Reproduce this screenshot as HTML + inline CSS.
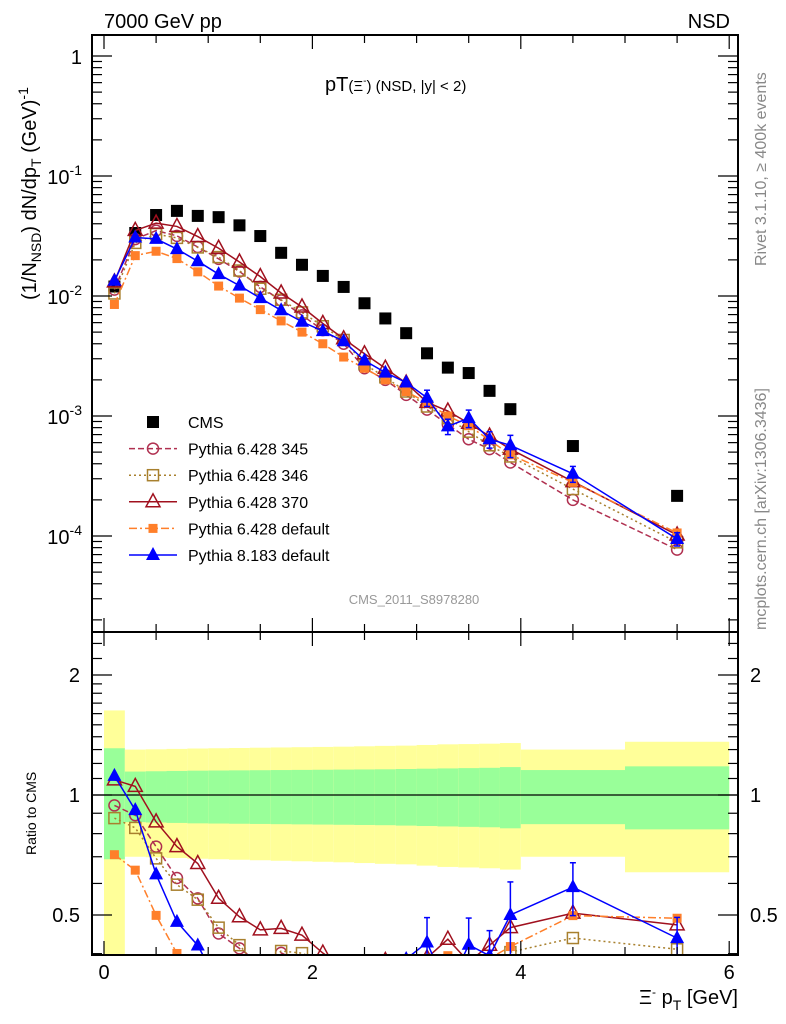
<!DOCTYPE html>
<html><head><meta charset="utf-8"><style>
html,body{margin:0;padding:0;background:#fff;}
svg{display:block;font-family:"Liberation Sans",sans-serif;}
</style></head><body>
<svg id="chart" width="786" height="1024" viewBox="0 0 786 1024">
<defs>
<clipPath id="cm"><rect x="92" y="35" width="646" height="597"/></clipPath>
<clipPath id="cr"><rect x="92" y="632" width="646" height="323"/></clipPath>
</defs>
<g id="bands" clip-path="url(#cr)"></g>
<g id="main" clip-path="url(#cm)"></g>
<g id="ratio" clip-path="url(#cr)"></g>
<g id="axes"></g>
<rect x="92" y="35" width="646" height="597" fill="none" stroke="#000" stroke-width="2"/>
<rect x="92" y="632" width="646" height="323" fill="none" stroke="#000" stroke-width="2"/>
<text x="104" y="28" font-size="20">7000 GeV pp</text>
<text x="730" y="28" font-size="20" text-anchor="end">NSD</text>
<text x="325" y="91" font-size="20">pT<tspan font-size="15">(Ξ</tspan><tspan font-size="10" dy="-7">-</tspan><tspan font-size="15" dy="7">) (NSD, |y| &lt; 2)</tspan></text>
<text x="414" y="604" font-size="13" fill="#999" text-anchor="middle">CMS_2011_S8978280</text>
<text transform="translate(766,266) rotate(-90)" font-size="16" fill="#888">Rivet 3.1.10, ≥ 400k events</text>
<text transform="translate(766,630) rotate(-90)" font-size="16" fill="#888">mcplots.cern.ch [arXiv:1306.3436]</text>
<text transform="translate(36,300) rotate(-90)" font-size="20">(1/N<tspan font-size="14" dy="5">NSD</tspan><tspan dy="-5">) dN/dp</tspan><tspan font-size="14" dy="5">T</tspan><tspan dy="-5"> (GeV)</tspan><tspan font-size="14" dy="-8">-1</tspan></text>
<text transform="translate(36,855) rotate(-90)" font-size="14">Ratio to CMS</text>
<text x="738" y="1004" font-size="20" text-anchor="end">Ξ<tspan font-size="12" dy="-8">-</tspan><tspan dy="8"> p</tspan><tspan font-size="14" dy="6">T</tspan><tspan dy="-6"> [GeV]</tspan></text>
<g id="legend"></g>
</svg>
<script>
const binLo=[0,0.2,0.4,0.6,0.8,1.0,1.2,1.4,1.6,1.8,2.0,2.2,2.4,2.6,2.8,3.0,3.2,3.4,3.6,3.8,4.0,5.0];
const binHi=[0.2,0.4,0.6,0.8,1.0,1.2,1.4,1.6,1.8,2.0,2.2,2.4,2.6,2.8,3.0,3.2,3.4,3.6,3.8,4.0,5.0,6.0];
const cms=[0.012,0.0335,0.0473,0.0512,0.0465,0.0454,0.0388,0.0316,0.0229,0.0182,0.0147,0.0119,0.0087,0.0065,0.0049,0.00333,0.00253,0.00228,0.00162,0.00114,0.000562,0.000216];
const cmsStat=[0.31,0.145,0.147,0.149,0.151,0.152,0.153,0.154,0.155,0.156,0.157,0.158,0.159,0.160,0.162,0.164,0.166,0.168,0.170,0.175,0.155,0.18];
const cmsTot=[0.63,0.30,0.302,0.305,0.308,0.31,0.312,0.314,0.316,0.318,0.32,0.322,0.325,0.328,0.33,0.335,0.34,0.342,0.345,0.35,0.30,0.36];
const p345=[0.0113,0.0298,0.0351,0.0317,0.0256,0.0204,0.016,0.0119,0.0092,0.0069,0.0052,0.004,0.0025,0.002,0.0015,0.00113,0.00085,0.00064,0.00053,0.00041,0.0002,0.000077];
const p346=[0.0105,0.0277,0.0328,0.0305,0.0254,0.0211,0.0163,0.0115,0.0093,0.0073,0.0056,0.0043,0.0027,0.0021,0.0016,0.0012,0.00096,0.00074,0.00057,0.00046,0.000246,0.0000886];
const p370=[0.0131,0.0352,0.0405,0.038,0.0313,0.025,0.0192,0.0145,0.0106,0.0081,0.0059,0.0044,0.0033,0.0025,0.00188,0.0013,0.0011,0.00087,0.00068,0.00053,0.000284,0.000102];
const pdef=[0.0085,0.0217,0.0236,0.0205,0.0159,0.0121,0.0096,0.0077,0.0062,0.005,0.004,0.0031,0.0025,0.002,0.0016,0.00129,0.001,0.00083,0.00063,0.000475,0.00028,0.000106];
const p8=[0.0134,0.0307,0.0299,0.0246,0.0195,0.0152,0.0122,0.0096,0.0076,0.0061,0.0051,0.0042,0.0029,0.0023,0.0019,0.00142,0.00082,0.00096,0.00064,0.00057,0.00033,0.0000945];
const p8Err=[0,0,0,0,0,0,0,0,0,0,0,0,0,0,0,0.00022,0.00012,0.00016,0.0001,0.00012,0.00005,0.000012];
const xTickLabels=["0","2","4","6"];
const yTickLabels=["10⁻⁴","10⁻³","10⁻²","10⁻¹","1"];
const rTickLabels=["0.5","1","2"];

const NS="http://www.w3.org/2000/svg";
const X=v=>104+v*104.2;
const Y=v=>56-120*Math.log10(v);
const R=r=>795-120*Math.log2(r);
function mk(parent,tag,attrs){const e=document.createElementNS(NS,tag);for(const k in attrs)e.setAttribute(k,attrs[k]);parent.appendChild(e);return e;}
const gMain=document.getElementById('main'),gRatio=document.getElementById('ratio'),gBands=document.getElementById('bands'),gAx=document.getElementById('axes'),gLeg=document.getElementById('legend');
const ctr=binLo.map((l,i)=>(l+binHi[i])/2);

cms.forEach((c,i)=>{
  let r=mk(gBands,'rect',{x:X(binLo[i]),y:R(1+cmsTot[i]),width:X(binHi[i])-X(binLo[i]),height:R(Math.max(1-cmsTot[i],0.05))-R(1+cmsTot[i]),fill:'#ffff99'});
  
  
  let g=mk(gBands,'rect',{x:X(binLo[i]),y:R(1+cmsStat[i]),width:X(binHi[i])-X(binLo[i]),height:R(1-cmsStat[i])-R(1+cmsStat[i]),fill:'#99ff99'});
  
  
});
let one=mk(gBands,'line',{x1:92,x2:738,y1:R(1),y2:R(1),stroke:'#000','stroke-width':1.2});



function marker(g,shape,x,y,col){
  let e;
  if(shape==='sq') e=mk(g,'rect',{x:x-6,y:y-6,width:12,height:12,fill:'#000'});
  else if(shape==='circ') e=mk(g,'circle',{cx:x,cy:y,r:5.5,fill:'none',stroke:col,'stroke-width':1.5});
  else if(shape==='osq') e=mk(g,'rect',{x:x-5.5,y:y-5.5,width:11,height:11,fill:'none',stroke:col,'stroke-width':1.5});
  else if(shape==='otri') e=mk(g,'polygon',{points:`${x},${y-8} ${x-7},${y+5} ${x+7},${y+5}`,fill:'none',stroke:col,'stroke-width':1.5});
  else if(shape==='fsq') e=mk(g,'rect',{x:x-4.5,y:y-4.5,width:9,height:9,fill:col});
  else e=mk(g,'polygon',{points:`${x},${y-8} ${x-7},${y+5} ${x+7},${y+5}`,fill:col});
  return e;
}
const series=[
 {name:'pythia-6-345',vals:p345,col:'#b03050',dash:'6,3',shape:'circ'},
 {name:'pythia-6-346',vals:p346,col:'#a8802e',dash:'2,3',shape:'osq'},
 {name:'pythia-6-370',vals:p370,col:'#a0101e',dash:'',shape:'otri'},
 {name:'pythia-6-default',vals:pdef,col:'#ff7f2a',dash:'8,3,2,3',shape:'fsq'},
 {name:'pythia-8-default',vals:p8,col:'#0000ff',dash:'',shape:'ftri',err:p8Err}
];
cms.forEach((c,i)=>{
  const m=marker(gMain,'sq',X(ctr[i]),Y(c),'#000');
  
  
});
function errBar(g,x,y1,y2,col,name){
  const gg=mk(g,'g',{});
  
  
  mk(gg,'line',{x1:x,x2:x,y1:y1,y2:y2,stroke:col,'stroke-width':1.5});
  mk(gg,'line',{x1:x-3,x2:x+3,y1:y1,y2:y1,stroke:col,'stroke-width':1.5});
  mk(gg,'line',{x1:x-3,x2:x+3,y1:y2,y2:y2,stroke:col,'stroke-width':1.5});
}
series.forEach(s=>{
  const pm=s.vals.map((v,i)=>X(ctr[i])+','+Y(v)).join(' ');
  const l=mk(gMain,'polyline',{points:pm,fill:'none',stroke:s.col,'stroke-width':1.5,'stroke-dasharray':s.dash});
  
  
  const pr=s.vals.map((v,i)=>X(ctr[i])+','+R(v/cms[i])).join(' ');
  const l2=mk(gRatio,'polyline',{points:pr,fill:'none',stroke:s.col,'stroke-width':1.5,'stroke-dasharray':s.dash});
  
  
  s.vals.forEach((v,i)=>{
    if(s.err&&s.err[i]>0){
      const e=s.err[i],x=X(ctr[i]);
      errBar(gMain,x,Y(v+e),Y(v-e),s.col,s.name+'-error-bar');
      errBar(gRatio,x,R((v+e)/cms[i]),R((v-e)/cms[i]),s.col,s.name+'-ratio-error-bar');
    }
    const m=marker(gMain,s.shape,X(ctr[i]),Y(v),s.col);
    
    
    const m2=marker(gRatio,s.shape,X(ctr[i]),R(v/cms[i]),s.col);
    
    
  });
});
const legItems=[{t:'CMS',shape:'sq',col:'#000',dash:null}].concat(series.map((s,i)=>({t:['Pythia 6.428 345','Pythia 6.428 346','Pythia 6.428 370','Pythia 6.428 default','Pythia 8.183 default'][i],shape:s.shape,col:s.col,dash:s.dash})));
legItems.forEach((it,i)=>{
  const y=422+i*26.6;
  if(it.dash!==null){
    const l=mk(gLeg,'line',{x1:129,x2:177,y1:y,y2:y,stroke:it.col,'stroke-width':1.5,'stroke-dasharray':it.dash});
    
    
  }
  const m=marker(gLeg,it.shape,153,y,it.col);
  
  
  const t=mk(gLeg,'text',{x:188,y:y+6,'font-size':16});
  t.textContent=it.t;
  
  
});
for(let v=0;v<=6.001;v+=0.5){
  const major=Math.abs(v%2)<0.01;
  const len=major?14:8;
  [[632,-1],[35,1],[955,-1],[632,1]].forEach(([y0,d])=>{
    mk(gAx,'line',{x1:X(v),x2:X(v),y1:y0,y2:y0+d*len,stroke:'#000','stroke-width':1.2});
  });
}
xTickLabels.forEach((s,i)=>{
  const t=mk(gAx,'text',{x:X(i*2),y:979,'font-size':20,'text-anchor':'middle'});
  t.textContent=s;
  
  
});
for(let d=-5;d<=0;d++){
  for(let m=1;m<=9;m++){
    const v=m*Math.pow(10,d),y=Y(v);
    if(y<35||y>632)continue;
    const len=m===1?20:10;
    mk(gAx,'line',{x1:92,x2:92+len,y1:y,y2:y,stroke:'#000','stroke-width':1.2});
    mk(gAx,'line',{x1:738,x2:738-len,y1:y,y2:y,stroke:'#000','stroke-width':1.2});
  }
}
yTickLabels.forEach((s,i)=>{
  const t=mk(gAx,'text',{x:82,y:Y(Math.pow(10,i-4))+8,'font-size':20,'text-anchor':'end'});
  if(s==='1'){t.textContent='1';}
  else{t.textContent='10';const ts=mk(t,'tspan',{'font-size':14,dy:-9});ts.textContent=String(i-4);}
  
  
});
[0.4,0.5,0.6,0.7,0.8,0.9,1,1.1,1.2,1.3,1.4,1.5,1.6,1.7,1.8,1.9,2,2.2,2.4].forEach(v=>{
  const y=R(v); if(y<632||y>955)return;
  const major=(v===0.5||v===1||v===2);
  const len=major?20:10;
  mk(gAx,'line',{x1:92,x2:92+len,y1:y,y2:y,stroke:'#000','stroke-width':1.2});
  mk(gAx,'line',{x1:738,x2:738-len,y1:y,y2:y,stroke:'#000','stroke-width':1.2});
});
rTickLabels.forEach(s=>{
  const v=parseFloat(s);
  const t=mk(gAx,'text',{x:80,y:R(v)+7,'font-size':20,'text-anchor':'end'});
  t.textContent=s;
  
  
  const t2=mk(gAx,'text',{x:750,y:R(v)+7,'font-size':20});
  t2.textContent=s;
  
  
});
</script>
</body></html>
